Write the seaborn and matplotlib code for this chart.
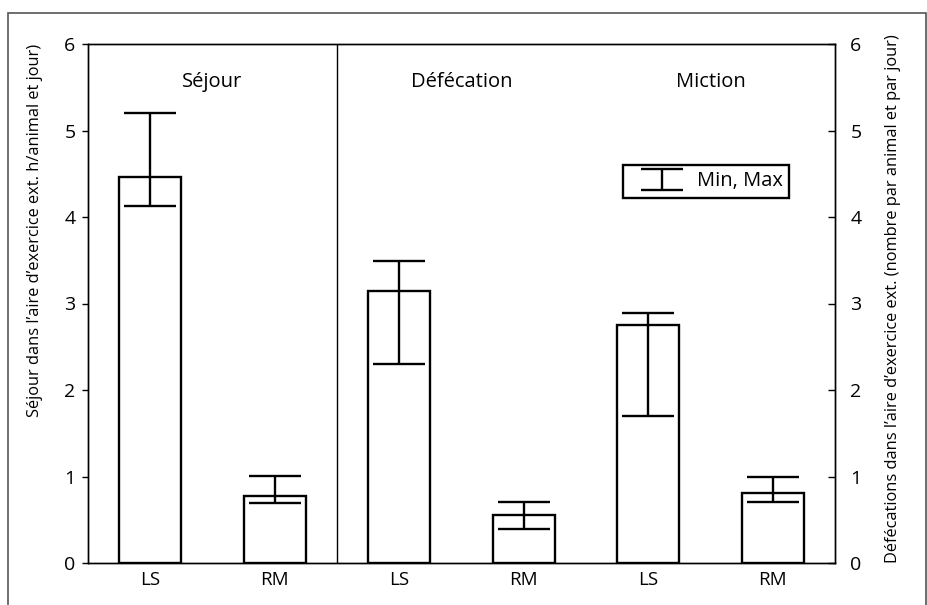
# Séjour, défécations et mictions dans l'aire d'exercice extérieure (LS / RM)

import seaborn as sns
import matplotlib.pyplot as plt
import pandas as pd
from matplotlib.patches import Rectangle
from matplotlib.lines import Line2D

# Données
variables = ["Séjour", "Défécation", "Miction"]
systemes = ["LS", "RM"]
moyenne = [4.46, 0.77, 3.15, 0.55, 2.75, 0.81]
minimum = [4.13, 0.69, 2.30, 0.39, 1.70, 0.70]
maximum = [5.20, 1.01, 3.49, 0.70, 2.89, 1.00]
yticks = [0, 1, 2, 3, 4, 5, 6]

barres = [f"{v} {s}" for v in variables for s in systemes]
df = pd.DataFrame({"barre": barres, "moyenne": moyenne,
                   "min": minimum, "max": maximum})

sns.set_style("ticks")
plt.rcParams["font.family"] = ["Open Sans", "DejaVu Sans"]
plt.rcParams["text.color"] = "black"
plt.rcParams["xtick.color"] = "black"
plt.rcParams["ytick.color"] = "black"

fig = plt.figure(figsize=(9.28, 6.05), dpi=100)
ax = fig.add_axes([88 / 928, 1 - 563 / 605, (835 - 88) / 928, (563 - 44) / 605])

sns.barplot(data=df, x="barre", y="moyenne", order=barres, color="white",
            edgecolor="black", linewidth=1.7, width=0.5, errorbar=None,
            saturation=1, ax=ax)

# barres d'erreur min / max
err_bas = df["moyenne"] - df["min"]
err_haut = df["max"] - df["moyenne"]
ax.errorbar(x=range(len(barres)), y=df["moyenne"], yerr=[err_bas, err_haut],
            fmt="none", ecolor="black", elinewidth=1.7, capsize=18.7,
            capthick=1.7, label="Min, Max", zorder=3)

ax.set_xlim(-0.5, 5.5)
ax.set_ylim(0, 6)
ax.set_yticks(yticks)
ax.set_xticks(range(len(barres)))
ax.set_xticklabels(systemes * len(variables))
ax.tick_params(axis="x", length=0, pad=6, labelsize=13.5)
ax.tick_params(axis="y", direction="out", length=4, width=1, pad=5, labelsize=14)
ax.set_xlabel("")
ax.set_ylabel("")
for sp in ax.spines.values():
    sp.set_visible(True)
    sp.set_linewidth(1.0)
    sp.set_color("black")

# séparation Séjour / autres
ax.axvline(1.5, color="black", linewidth=1.0)

for i, v in enumerate(variables):
    ax.text(2 * i + 0.5, 5.56, v, ha="center", va="center", fontsize=14.5)

# axe de droite
ax2 = ax.twinx()
ax2.set_ylim(0, 6)
ax2.set_yticks(yticks)
ax2.tick_params(axis="y", direction="in", length=5, width=1, pad=11, labelsize=14)
for sp in ax2.spines.values():
    sp.set_linewidth(1.0)
    sp.set_color("black")

fig.text(35 / 928, 1 - 44 / 605,
         "Séjour dans l’aire d’exercice ext. h/animal et jour)",
         rotation=90, ha="center", va="top", fontsize=11.8)
fig.text(893 / 928, 1 - 34 / 605,
         "Défécations dans l’aire d’exercice ext. (nombre par animal et par jour)",
         rotation=90, ha="center", va="top", fontsize=11.8)

leg = ax.legend(loc="upper left", bbox_to_anchor=(0.716, 0.766), fontsize=14.5,
                frameon=True, fancybox=False, edgecolor="black",
                handlelength=3.3, borderpad=0.3, handletextpad=0.1,
                borderaxespad=0)
leg.get_frame().set_linewidth(1.7)
leg.get_frame().set_alpha(1)
for ln in leg.findobj(Line2D):
    if ln.get_marker() == "_":
        ln.set_markersize(30)

# cadre gris autour de la figure
fig.patches.append(Rectangle((8 / 928, -0.1), (926 - 8) / 928, 1.1 - 13 / 605,
                             transform=fig.transFigure, fill=False,
                             edgecolor="#555555", linewidth=1.2))

plt.savefig("out.png", dpi=100)
plt.close()
